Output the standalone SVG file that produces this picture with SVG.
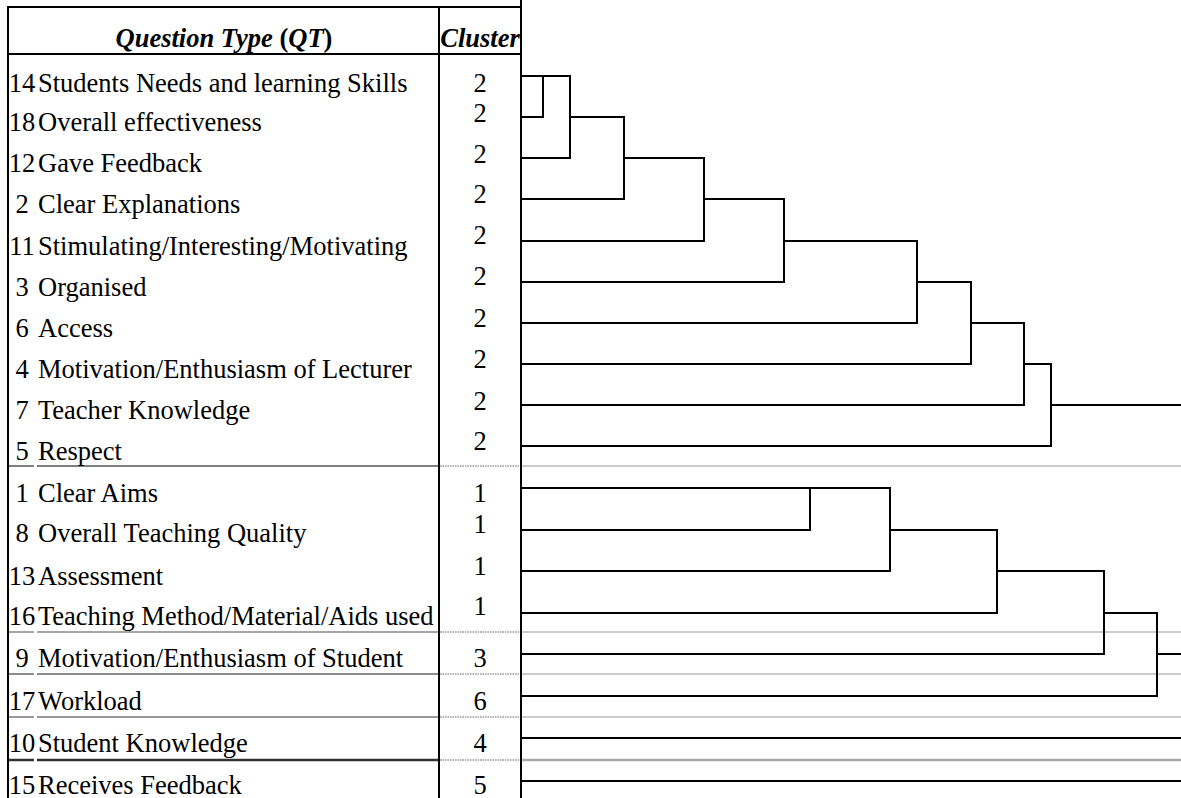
<svg xmlns="http://www.w3.org/2000/svg" width="1181" height="798" viewBox="0 0 1181 798">
<style>
.t{font-family:"Liberation Serif","Times New Roman",serif;font-size:26.5px;fill:#000}
.n{font-family:"Liberation Serif","Times New Roman",serif;font-size:26.5px;fill:#000;text-anchor:middle}
.h{font-family:"Liberation Serif","Times New Roman",serif;font-size:26.5px;font-weight:bold;font-style:italic;fill:#000;text-anchor:middle}
.up{font-style:normal}
.frame{stroke:#000;stroke-width:2;fill:none}
.d{stroke:#000;stroke-width:2;fill:none;stroke-linecap:square}
.g{stroke:#bbb;stroke-width:1.5;fill:none}
.dot{stroke:#999;stroke-width:1.5;stroke-dasharray:1.5 1;fill:none}
</style>
<rect width="1181" height="798" fill="#fff"/>
<g id="table-frame">
<line class="frame" x1="8" y1="7" x2="8" y2="798"/>
<line class="frame" x1="439" y1="7" x2="439" y2="798"/>
<line class="frame" x1="521" y1="0" x2="521" y2="798"/>
<line class="frame" x1="7" y1="7" x2="522" y2="7"/>
<line class="frame" x1="7" y1="54" x2="522" y2="54"/>
</g>
<g id="separators">
<line x1="9" y1="466" x2="34" y2="466" stroke="#555" stroke-width="1.5"/>
<line x1="37" y1="466" x2="438" y2="466" stroke="#555" stroke-width="1.5"/>
<line x1="9" y1="632" x2="34" y2="632" stroke="#888" stroke-width="1.5"/>
<line x1="37" y1="632" x2="438" y2="632" stroke="#888" stroke-width="1.5"/>
<line x1="9" y1="674" x2="34" y2="674" stroke="#666" stroke-width="1.5"/>
<line x1="37" y1="674" x2="438" y2="674" stroke="#666" stroke-width="1.5"/>
<line x1="9" y1="717" x2="34" y2="717" stroke="#777" stroke-width="1.5"/>
<line x1="37" y1="717" x2="438" y2="717" stroke="#777" stroke-width="1.5"/>
<line x1="9" y1="760" x2="34" y2="760" stroke="#333" stroke-width="2.5"/>
<line x1="37" y1="760" x2="438" y2="760" stroke="#333" stroke-width="2.5"/>
<line class="dot" x1="440" y1="466" x2="520" y2="466"/>
<line class="dot" x1="440" y1="632" x2="520" y2="632"/>
<line class="dot" x1="440" y1="674" x2="520" y2="674"/>
<line class="dot" x1="440" y1="717" x2="520" y2="717"/>
<line class="dot" x1="440" y1="760" x2="520" y2="760" stroke-width="2.5"/>
<line class="g" x1="522" y1="466" x2="1181" y2="466"/>
<line class="g" x1="522" y1="632" x2="1181" y2="632"/>
<line class="g" x1="522" y1="674" x2="1181" y2="674"/>
<line class="g" x1="522" y1="717" x2="1181" y2="717"/>
<line x1="522" y1="760" x2="1181" y2="760" stroke="#aaa" stroke-width="2.5"/>
</g>
<g id="header">
<text class="h" x="224" y="47">Question Type <tspan class="up">(</tspan>QT<tspan class="up">)</tspan></text>
<text class="h" x="480" y="47" font-size="26">Cluster</text>
</g>
<g id="row-14"><text class="n" x="22" y="92">14</text><text class="t" x="38" y="92">Students Needs and learning Skills</text><text class="n" x="480" y="92">2</text></g>
<g id="row-18"><text class="n" x="22" y="131">18</text><text class="t" x="38" y="131">Overall effectiveness</text><text class="n" x="480" y="122">2</text></g>
<g id="row-12"><text class="n" x="22" y="172">12</text><text class="t" x="38" y="172">Gave Feedback</text><text class="n" x="480" y="163">2</text></g>
<g id="row-2"><text class="n" x="22" y="213">2</text><text class="t" x="38" y="213">Clear Explanations</text><text class="n" x="480" y="203">2</text></g>
<g id="row-11"><text class="n" x="22" y="255">11</text><text class="t" x="38" y="255">Stimulating/Interesting/Motivating</text><text class="n" x="480" y="244">2</text></g>
<g id="row-3"><text class="n" x="22" y="296">3</text><text class="t" x="38" y="296">Organised</text><text class="n" x="480" y="285">2</text></g>
<g id="row-6"><text class="n" x="22" y="337">6</text><text class="t" x="38" y="337">Access</text><text class="n" x="480" y="327">2</text></g>
<g id="row-4"><text class="n" x="22" y="378">4</text><text class="t" x="38" y="378">Motivation/Enthusiasm of Lecturer</text><text class="n" x="480" y="368">2</text></g>
<g id="row-7"><text class="n" x="22" y="419">7</text><text class="t" x="38" y="419">Teacher Knowledge</text><text class="n" x="480" y="410">2</text></g>
<g id="row-5"><text class="n" x="22" y="460">5</text><text class="t" x="38" y="460">Respect</text><text class="n" x="480" y="450">2</text></g>
<g id="row-1"><text class="n" x="22" y="502">1</text><text class="t" x="38" y="502">Clear Aims</text><text class="n" x="480" y="502">1</text></g>
<g id="row-8"><text class="n" x="22" y="542">8</text><text class="t" x="38" y="542">Overall Teaching Quality</text><text class="n" x="480" y="533">1</text></g>
<g id="row-13"><text class="n" x="22" y="585">13</text><text class="t" x="38" y="585">Assessment</text><text class="n" x="480" y="575">1</text></g>
<g id="row-16"><text class="n" x="22" y="625">16</text><text class="t" x="38" y="625">Teaching Method/Material/Aids used</text><text class="n" x="480" y="615">1</text></g>
<g id="row-9"><text class="n" x="22" y="667">9</text><text class="t" x="38" y="667">Motivation/Enthusiasm of Student</text><text class="n" x="480" y="667">3</text></g>
<g id="row-17"><text class="n" x="22" y="710">17</text><text class="t" x="38" y="710">Workload</text><text class="n" x="480" y="710">6</text></g>
<g id="row-10"><text class="n" x="22" y="752">10</text><text class="t" x="38" y="752">Student Knowledge</text><text class="n" x="480" y="752">4</text></g>
<g id="row-15"><text class="n" x="22" y="794">15</text><text class="t" x="38" y="794">Receives Feedback</text><text class="n" x="480" y="794">5</text></g>
<g id="connectors">
<path class="d" d="M522 76H570V158H522"/>
<path class="d" d="M543 76V117H522"/>
<path class="d" d="M570 117H624V199H522"/>
<path class="d" d="M624 158H704V241H522"/>
<path class="d" d="M704 199H784V282H522"/>
<path class="d" d="M784 241H917V323H522"/>
<path class="d" d="M917 282H971V364H522"/>
<path class="d" d="M971 323H1024V405H522"/>
<path class="d" d="M1024 364H1051V446H522"/>
<path class="d" d="M1051 405H1181"/>
<path class="d" d="M522 488H890V571H522"/>
<path class="d" d="M810 488V530H522"/>
<path class="d" d="M890 530H997V613H522"/>
<path class="d" d="M997 571H1104V654H522"/>
<path class="d" d="M1104 613H1157V696H522"/>
<path class="d" d="M1157 654H1181"/>
<path class="d" d="M522 738H1181"/>
<path class="d" d="M522 781H1181"/>
</g>
</svg>
